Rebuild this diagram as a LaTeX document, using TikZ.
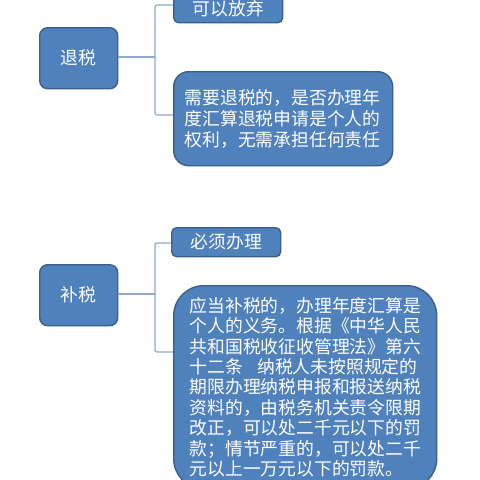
\documentclass[tikz,border=0pt]{standalone}
\usepackage{fontspec}
\setmainfont{Noto Sans CJK SC}
\begin{document}
\begin{tikzpicture}[x=1pt,y=-1pt,
  box/.style={draw=boxborder,line width=1.4pt,fill=boxfill,text=white,inner sep=0pt,anchor=north west,font=\fontsize{17.8}{20.5}\selectfont},
  conn/.style={draw=connc,line width=1.2pt,rounded corners=2pt}]
\definecolor{boxfill}{HTML}{4F81BD}
\definecolor{boxborder}{HTML}{3A5F8B}
\definecolor{connc}{HTML}{8FAACC}
\useasboundingbox (0,0) rectangle (480,480);
\clip (0,0) rectangle (480,480);
\fill[white] (0,0) rectangle (480,480);
% upper group
\node[box,rounded corners=8pt,minimum width=78pt,minimum height=61pt] (t) at (39,27) {退税};
\node[box,rounded corners=5pt,minimum width=109pt,minimum height=28pt] (a) at (173,-6) {可以放弃};
\node[box,rounded corners=15pt,minimum width=219pt,minimum height=94pt,text width=197pt,align=left,font=\fontsize{17.8}{21}\selectfont] (b) at (173,71) {需要退税的，是否办理年\\度汇算退税申请是个人的\\权利，无需承担任何责任};
\coordinate (j1) at (155,57);
\draw[conn] (t.east |- j1) -- (j1);
\draw[conn] (a.west |- 0,5) -- (j1 |- 0,5) -- (j1 |- 0,115) -- (b.west |- 0,115);
% lower group
\node[box,rounded corners=8pt,minimum width=78pt,minimum height=61pt] (s) at (39,264) {补税};
\node[box,rounded corners=5pt,minimum width=109pt,minimum height=29pt] (c) at (171,227) {必须办理};
\node[box,rounded corners=30pt,minimum width=263pt,minimum height=203pt,text width=233pt,align=left,font=\fontsize{17.8}{20.4}\selectfont] (d) at (173,285) {\hspace*{1pt}应当补税的，办理年度汇算是\\\hspace*{1pt}个人的义务。根据《中华人民\\\hspace*{1pt}共和国税收征收管理法》第六\\\hspace*{1pt}十二条\hspace{0.8em}纳税人未按照规定的\\\hspace*{1pt}期限办理纳税申报和报送纳税\\\hspace*{1pt}资料的，由税务机关责令限期\\\hspace*{1pt}改正，可以处二千元以下的罚\\\hspace*{1pt}款；情节严重的，可以处二千\\\hspace*{1pt}元以上一万元以下的罚款。};
\coordinate (j2) at (155,294);
\draw[conn] (s.east |- j2) -- (j2);
\draw[conn] (c.west |- 0,243) -- (j2 |- 0,243) -- (j2 |- 0,352) -- (d.west |- 0,352);
\end{tikzpicture}
\end{document}
